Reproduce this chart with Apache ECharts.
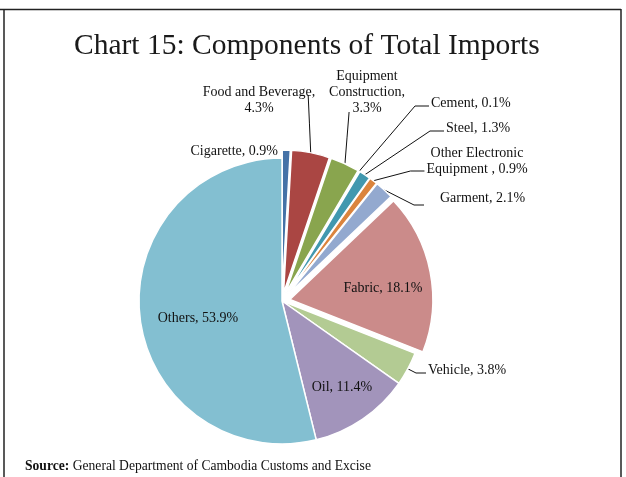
<!DOCTYPE html>
<html>
<head>
<meta charset="utf-8">
<script src="https://cdn.jsdelivr.net/npm/echarts@6/dist/echarts.min.js"></script>
<style>
  html, body { margin: 0; padding: 0; background: #fff; }
  #chart { width: 626px; height: 477px; }
</style>
</head>
<body>
<div id="chart"></div>
<script>
// Import components, share of total imports (%)
const categories = ['Cigarette', 'Food and Beverage', 'Equipment\nConstruction', 'Cement', 'Steel',
  'Other Electronic\nEquipment ', 'Garment', 'Fabric', 'Vehicle', 'Oil', 'Others'];
const shares = [0.9, 4.3, 3.3, 0.1, 1.3, 0.9, 2.1, 18.1, 3.8, 11.4, 53.9];
// whether the value goes on its own line after the name
const valueOnNewLine = [false, true, true, false, false, false, false, false, false, false, false];
const colors = ['#4572A7', '#AA4643', '#89A54E', '#71588F', '#4198AF', '#DB843D',
  '#93A9CF', '#CB8B8A', '#B3CB93', '#A294BB', '#83BFD1'];
const pulledOut = [true, true, true, true, true, true, true, true, false, false, false];
const insideLabel = [false, false, false, false, false, false, false, true, false, true, true];

const PIE_CENTER = [282, 301];
const PIE_RADIUS = 143;
const PULL = 8;

// label placement: [x, y, align]
const labelPlace = [
  [278, 151, 'right'],
  [259, 100, 'center'],
  [367, 92, 'center'],
  [431, 103, 'left'],
  [446, 128, 'left'],
  [477, 161, 'center'],
  [440, 198, 'left'],
  [383, 288, 'center'],
  [428, 370, 'left'],
  [342, 387, 'center'],
  [198, 318, 'center']
];

const chart = echarts.init(document.getElementById('chart'), null, { renderer: 'canvas' });

function labelText(p) {
  return p.name + ',' + (valueOnNewLine[p.dataIndex] ? '\n' : ' ') + p.value.toFixed(1) + '%';
}

// leader line from the slice edge to the label box
function leaderPoints(i, anchor, r) {
  let a = anchor;
  if (pulledOut[i]) {
    const vx = anchor[0] - PIE_CENTER[0], vy = anchor[1] - PIE_CENTER[1];
    const len = Math.sqrt(vx * vx + vy * vy) || 1;
    a = [anchor[0] + vx / len * PULL, anchor[1] + vy / len * PULL];
  }
  if (i === 1) {
    const e = [r.x + r.width - 7, r.y + 11];
    return [a, [(a[0] + e[0]) / 2, (a[1] + e[1]) / 2], e];
  }
  if (i === 2) {
    const e = [r.x + 20, r.y + r.height - 4];
    return [a, [(a[0] + e[0]) / 2, (a[1] + e[1]) / 2], e];
  }
  if (i === 6) {
    const ey = r.y + r.height / 2 + 7;
    const e = [r.x - 16, ey];
    return [a, [e[0] - 10, ey], e];
  }
  const ey = i === 5 ? r.y + r.height - 6 : r.y + r.height / 2 + 3;
  const e = [r.x - 2, ey];
  const elbow = [e[0] - (i === 8 ? 10 : 14), ey];
  return [a, elbow, e];
}

const sliceData = categories.map((name, i) => ({
  name: name,
  value: shares[i],
  selected: pulledOut[i],
  itemStyle: { color: colors[i] }
}));

const labelData = categories.map((name, i) => ({
  name: name,
  value: shares[i],
  label: { position: insideLabel[i] ? 'inside' : 'outside' },
  labelLine: { show: !insideLabel[i] && i !== 0 }
}));

chart.setOption({
  animation: false,
  backgroundColor: '#ffffff',
  title: {
    text: 'Chart 15: Components of Total Imports',
    left: 69,
    top: 26,
    textStyle: { fontFamily: 'Liberation Serif', fontSize: 29.5, fontWeight: 'normal', color: '#1a1a1a' }
  },
  graphic: [
    { type: 'line', shape: { x1: 0, y1: 9.5, x2: 621, y2: 9.5 }, style: { stroke: '#222', lineWidth: 1.5 } },
    { type: 'line', shape: { x1: 4, y1: 9, x2: 4, y2: 477 }, style: { stroke: '#222', lineWidth: 1.5 } },
    { type: 'line', shape: { x1: 621, y1: 9, x2: 621, y2: 477 }, style: { stroke: '#222', lineWidth: 1.5 } },
    {
      type: 'text', left: 25, top: 459,
      style: {
        text: '{b|Source:} General Department of Cambodia Customs and Excise',
        rich: {
          b: { fontFamily: 'Liberation Serif', fontSize: 13.6, fontWeight: 'bold', fill: '#111' }
        },
        fontFamily: 'Liberation Serif', fontSize: 13.6, fill: '#111'
      }
    }
  ],
  series: [
    {
      // slices
      type: 'pie',
      center: PIE_CENTER,
      radius: PIE_RADIUS,
      startAngle: 90,
      clockwise: true,
      selectedMode: 'multiple',
      selectedOffset: PULL,
      emphasis: { disabled: true },
      itemStyle: { borderColor: '#fff', borderWidth: 1.5 },
      label: { show: false },
      labelLine: { show: false },
      data: sliceData
    },
    {
      // data labels and leader lines
      type: 'pie',
      center: PIE_CENTER,
      radius: PIE_RADIUS,
      startAngle: 90,
      clockwise: true,
      silent: true,
      avoidLabelOverlap: false,
      emphasis: { disabled: true },
      itemStyle: { color: 'rgba(0,0,0,0)', borderWidth: 0 },
      label: {
        fontFamily: 'Liberation Serif',
        fontSize: 14,
        lineHeight: 16,
        color: '#111',
        formatter: labelText
      },
      labelLine: { lineStyle: { color: '#111', width: 1 }, length: 10, length2: 10 },
      labelLayout: function (params) {
        const i = params.dataIndex;
        const pl = labelPlace[i];
        const w = params.labelRect.width, h = params.labelRect.height;
        let left = pl[0];
        if (pl[2] === 'center') left = pl[0] - w / 2;
        if (pl[2] === 'right') left = pl[0] - w;
        const rect = { x: left, y: pl[1] - h / 2, width: w, height: h };
        const out = { x: pl[0], y: pl[1], align: pl[2], verticalAlign: 'middle' };
        if (params.labelLinePoints && !insideLabel[i] && i !== 0) {
          out.labelLinePoints = leaderPoints(i, params.labelLinePoints[0], rect);
        }
        return out;
      },
      data: labelData
    }
  ]
});
</script>
</body>
</html>
